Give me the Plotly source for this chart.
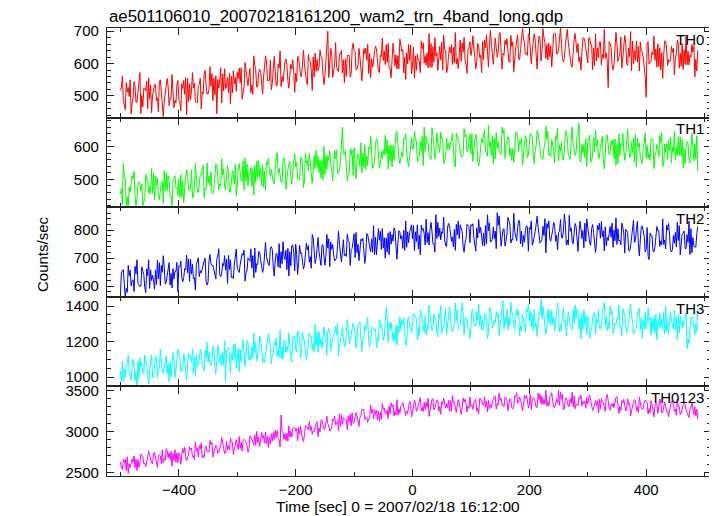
import plotly.graph_objects as go
from plotly.subplots import make_subplots

title_text = "ae501106010_20070218161200_wam2_trn_4band_long.qdp"
x_title = "Time [sec] 0 = 2007/02/18 16:12:00"
y_title = "Counts/sec"
band_names = ["TH0", "TH1", "TH2", "TH3", "TH0123"]
band_colors = ["#ff0000", "#00ff00", "#0000ff", "#00ffff", "#ff00ff"]

# time bins: t = -500 + (5/3)*k ; "a" arrays hold the bins at -500, -495, ...,
# "b" and "c" arrays the two bins that follow each of them
t_start = -500.0
t_step = 5.0 / 3.0

th0_a = [
    518, 486, 541, 498, 476, 528, 511, 445, 524, 546, 491, 504, 534, 452, 516, 484, 554, 494, 509, 478,
    488, 538, 505, 554, 489, 524, 480, 535, 512, 579, 506, 530, 555, 445, 546, 569, 523, 510, 562, 538,
    573, 540, 511, 571, 560, 534, 595, 529, 574, 557, 608, 547, 538, 578, 599, 529, 576, 596, 563, 612,
    571, 621, 560, 596, 535, 607, 621, 576, 588, 619, 558, 700, 647, 579, 591, 630, 571, 613, 624, 568,
    640, 583, 621, 597, 648, 569, 615, 638, 596, 627, 609, 658, 586, 637, 592, 624, 656, 571, 634, 610,
    593, 624, 610, 670, 601, 633, 589, 652, 623, 610, 666, 644, 582, 632, 650, 598, 621, 664, 610, 642,
    625, 652, 603, 619, 668, 648, 589, 663, 641, 620, 696, 632, 658, 606, 653, 621, 689, 643, 679, 632,
    687, 640, 673, 655, 608, 680, 659, 621, 630, 693, 642, 661, 616, 706, 623, 651, 662, 604, 633, 668,
    602, 659, 648, 608, 667, 629, 617, 526, 650, 598, 659, 629, 617, 663, 649, 578, 640, 605, 667, 618,
    496, 598, 635, 610, 661, 580, 626, 648, 605, 635, 617, 664, 592, 642, 596, 627, 636, 613,
]
th0_b = [
    526, 472, 512, 550, 494, 480, 538, 502, 522, 460, 534, 515, 486, 544, 470, 508, 530, 492, 464, 536,
    482, 523, 557, 483, 518, 539, 479, 555, 507, 533, 521, 569, 503, 551, 587, 515, 531, 571, 509, 557,
    553, 587, 528, 544, 585, 505, 578, 572, 529, 589, 546, 610, 573, 531, 586, 560, 607, 547, 598, 576,
    544, 592, 609, 567, 628, 580, 559, 613, 642, 568, 609, 557, 630, 596, 579, 631, 612, 560, 625, 645,
    638, 595, 567, 646, 610, 631, 589, 654, 578, 621, 639, 604, 586, 663, 627, 584, 638, 621, 599, 658,
    651, 579, 608, 646, 625, 587, 662, 604, 634, 653, 580, 642, 623, 659, 602, 616, 673, 635, 596, 650,
    643, 598, 663, 626, 613, 688, 655, 610, 679, 634, 649, 626, 677, 604, 667, 649, 617, 694, 663, 625,
    650, 674, 623, 685, 638, 666, 611, 655, 692, 630, 673, 615, 658, 666, 593, 675, 634, 620, 679, 647,
    678, 659, 594, 648, 667, 616, 633, 668, 595, 648, 607, 682, 653, 600, 621, 670, 610, 653, 637, 590,
    664, 606, 627, 645, 591, 634, 670, 594, 611, 647, 629, 586, 662, 598, 639, 619, 655, 577,
]
th0_c = [
    561, 458, 526, 444, 544, 481, 572, 466, 516, 556, 448, 536, 494, 550, 436, 530, 470, 566, 486, 548,
    454, 548, 442, 538, 572, 482, 532, 460, 568, 506, 590, 486, 562, 524, 478, 584, 556, 476, 578, 514,
    586, 490, 603, 531, 510, 624, 527, 583, 506, 624, 549, 519, 622, 532, 639, 543, 614, 524, 583, 511,
    621, 561, 642, 548, 609, 517, 632, 578, 621, 535, 644, 606, 557, 665, 575, 640, 541, 625, 558, 663,
    580, 647, 547, 630, 660, 557, 605, 646, 572, 679, 597, 662, 556, 631, 583, 676, 644, 551, 659, 568,
    555, 629, 572, 664, 595, 693, 588, 680, 579, 611, 688, 572, 651, 597, 696, 584, 607, 681, 570, 668,
    686, 584, 653, 572, 673, 611, 703, 598, 649, 690, 583, 672, 631, 687, 575, 670, 611, 708, 629, 692,
    600, 692, 583, 677, 708, 616, 663, 589, 694, 630, 711, 605, 678, 638, 589, 693, 662, 580, 679, 613,
    680, 581, 692, 618, 595, 706, 607, 660, 581, 696, 619, 586, 687, 594, 699, 600, 670, 577, 635, 560,
    668, 606, 685, 589, 649, 554, 668, 612, 653, 565, 673, 632, 582, 688, 596, 659, 559, 641,
]
th1_a = [
    455, 548, 420, 477, 512, 450, 485, 465, 434, 499, 478, 457, 511, 448, 491, 527, 466, 448, 499, 474,
    502, 447, 491, 515, 474, 443, 507, 493, 530, 474, 489, 523, 468, 544, 485, 513, 466, 522, 512, 485,
    480, 523, 557, 495, 518, 479, 542, 507, 533, 477, 552, 529, 502, 545, 519, 491, 566, 513, 556, 527,
    539, 506, 568, 495, 557, 540, 526, 589, 521, 556, 514, 571, 545, 532, 588, 525, 660, 586, 514, 575,
    597, 555, 541, 580, 530, 598, 578, 558, 617, 547, 589, 579, 603, 538, 610, 592, 570, 626, 581, 567,
    592, 617, 568, 586, 660, 612, 571, 634, 581, 602, 625, 560, 592, 612, 579, 641, 607, 569, 630, 587,
    578, 607, 618, 564, 612, 586, 665, 572, 628, 596, 582, 640, 604, 620, 557, 590, 632, 610, 567, 624,
    600, 630, 588, 641, 567, 596, 623, 580, 608, 632, 557, 614, 589, 625, 562, 602, 580, 672, 609, 567,
    613, 553, 627, 602, 568, 632, 578, 591, 619, 563, 606, 572, 642, 580, 595, 613, 553, 627, 566, 600,
    564, 580, 625, 571, 595, 614, 544, 610, 587, 599, 559, 631, 572, 594, 616, 550, 601, 563,
]
th1_b = [
    474, 506, 447, 461, 502, 420, 493, 485, 442, 500, 457, 519, 482, 438, 493, 465, 512, 450, 501, 477,
    445, 493, 510, 468, 529, 481, 460, 514, 543, 469, 510, 458, 531, 497, 480, 532, 513, 461, 526, 546,
    538, 495, 468, 547, 512, 533, 492, 557, 482, 525, 544, 509, 492, 569, 534, 491, 546, 529, 508, 567,
    552, 499, 541, 580, 526, 513, 573, 538, 560, 499, 575, 557, 530, 589, 517, 556, 580, 543, 517, 590,
    537, 578, 612, 537, 572, 593, 533, 609, 560, 586, 574, 622, 556, 603, 639, 567, 583, 623, 560, 608,
    595, 619, 570, 632, 586, 614, 561, 605, 643, 581, 626, 568, 612, 620, 549, 631, 591, 577, 638, 606,
    638, 620, 556, 610, 630, 580, 598, 634, 562, 616, 576, 652, 624, 572, 594, 644, 584, 628, 612, 566,
    640, 582, 604, 621, 567, 611, 647, 570, 588, 624, 605, 563, 639, 575, 616, 596, 632, 554, 581, 625,
    627, 555, 583, 620, 598, 560, 634, 575, 604, 623, 548, 610, 590, 626, 567, 581, 637, 599, 558, 612,
    604, 558, 621, 583, 569, 642, 608, 562, 629, 583, 597, 573, 622, 548, 610, 591, 557, 633,
]
th1_c = [
    423, 506, 410, 494, 524, 441, 486, 419, 515, 458, 533, 437, 505, 469, 427, 520, 494, 420, 511, 452,
    514, 428, 530, 465, 446, 549, 462, 513, 443, 550, 482, 456, 548, 468, 564, 478, 542, 461, 514, 450,
    548, 493, 566, 481, 536, 452, 556, 506, 545, 467, 565, 530, 486, 582, 501, 559, 470, 545, 485, 579,
    504, 564, 476, 551, 580, 488, 533, 570, 505, 602, 530, 588, 495, 563, 521, 605, 578, 495, 594, 512,
    502, 570, 520, 604, 543, 633, 540, 624, 534, 564, 635, 532, 605, 557, 647, 548, 570, 639, 539, 629,
    647, 554, 616, 542, 632, 575, 658, 563, 608, 644, 548, 627, 589, 640, 538, 623, 569, 655, 584, 640,
    555, 638, 541, 625, 654, 571, 615, 548, 643, 586, 660, 564, 631, 595, 552, 645, 618, 544, 634, 575,
    636, 548, 649, 581, 561, 662, 574, 622, 551, 656, 586, 558, 649, 567, 661, 573, 636, 553, 604, 538,
    635, 579, 651, 564, 618, 533, 636, 584, 622, 543, 639, 603, 558, 653, 570, 627, 537, 611, 549, 642,
    565, 624, 533, 607, 634, 540, 583, 619, 551, 647, 573, 630, 534, 601, 557, 640, 610, 526,
]
th2_a = [
    575, 658, 592, 637, 620, 671, 610, 601, 641, 662, 592, 639, 658, 626, 674, 666, 632, 604, 663, 653,
    672, 632, 663, 647, 696, 626, 677, 634, 666, 700, 615, 680, 656, 698, 641, 681, 657, 710, 631, 679,
    664, 678, 710, 648, 695, 664, 736, 677, 694, 664, 706, 675, 731, 690, 669, 723, 707, 659, 723, 747,
    750, 684, 719, 674, 729, 705, 772, 698, 722, 746, 675, 736, 758, 712, 698, 750, 725, 715, 764, 731,
    787, 719, 732, 771, 713, 756, 768, 712, 746, 796, 736, 772, 712, 784, 799, 755, 768, 799, 739, 792,
    769, 794, 732, 818, 787, 756, 802, 752, 855, 777, 795, 765, 808, 786, 740, 821, 770, 795, 757, 815,
    820, 773, 808, 790, 745, 817, 798, 760, 770, 862, 784, 803, 760, 828, 768, 796, 809, 751, 781, 816,
    809, 746, 795, 812, 760, 781, 824, 769, 800, 760, 791, 775, 858, 765, 796, 751, 814, 784, 770, 825,
    797, 746, 792, 758, 825, 777, 812, 763, 775, 800, 749, 764, 811, 803, 729, 779, 756, 831, 765, 789,
    733, 695, 780, 739, 798, 761, 749, 818, 783, 731, 792, 763, 751, 797, 784, 713, 774, 739,
]
th2_b = [
    647, 604, 578, 657, 623, 644, 604, 669, 595, 638, 658, 623, 606, 684, 649, 607, 662, 646, 625, 685,
    669, 616, 658, 697, 643, 630, 690, 655, 677, 616, 692, 674, 647, 706, 634, 673, 697, 660, 634, 707,
    655, 695, 729, 654, 689, 709, 649, 724, 676, 701, 689, 736, 669, 717, 752, 680, 695, 735, 672, 720,
    713, 746, 688, 703, 745, 664, 738, 731, 689, 748, 706, 769, 732, 690, 745, 719, 766, 706, 757, 735,
    702, 750, 768, 726, 788, 741, 721, 775, 805, 731, 773, 721, 795, 761, 745, 798, 780, 728, 794, 814,
    817, 759, 782, 800, 747, 791, 828, 752, 770, 807, 789, 747, 824, 760, 802, 783, 819, 741, 769, 813,
    815, 743, 772, 810, 789, 751, 826, 768, 797, 817, 743, 805, 786, 822, 764, 778, 835, 797, 757, 811,
    803, 757, 820, 782, 768, 841, 807, 761, 828, 782, 796, 771, 821, 747, 808, 789, 756, 832, 799, 760,
    783, 806, 756, 817, 771, 798, 744, 787, 825, 762, 805, 747, 790, 798, 725, 807, 766, 752, 811, 778,
    809, 790, 726, 779, 798, 748, 765, 800, 728, 781, 740, 816, 787, 734, 756, 805, 744, 787,
]
th2_c = [
    657, 560, 674, 601, 581, 694, 598, 653, 577, 694, 620, 589, 692, 602, 709, 613, 684, 594, 653, 581,
    690, 630, 711, 617, 678, 586, 701, 647, 690, 604, 713, 675, 626, 734, 644, 709, 610, 694, 627, 732,
    649, 716, 618, 701, 733, 630, 680, 721, 649, 756, 676, 741, 636, 712, 665, 759, 728, 636, 745, 655,
    642, 717, 661, 754, 686, 785, 681, 774, 674, 707, 785, 670, 749, 697, 796, 686, 709, 785, 674, 774,
    792, 691, 761, 681, 783, 723, 816, 712, 764, 806, 700, 790, 750, 808, 696, 793, 735, 833, 755, 819,
    727, 819, 712, 806, 839, 747, 796, 722, 828, 765, 847, 741, 816, 776, 728, 833, 803, 721, 821, 755,
    823, 725, 838, 764, 743, 855, 758, 812, 734, 851, 775, 743, 846, 754, 860, 762, 833, 741, 799, 725,
    833, 771, 850, 754, 814, 719, 833, 777, 818, 730, 838, 797, 747, 853, 761, 824, 724, 806, 737, 840,
    755, 820, 720, 801, 831, 726, 774, 813, 739, 844, 761, 825, 718, 792, 743, 835, 802, 708, 815, 722,
    707, 780, 722, 813, 742, 840, 733, 824, 722, 753, 828, 712, 789, 734, 832, 719, 740, 813,
]
th3_a = [
    1034, 976, 1072, 1020, 1059, 977, 1090, 1056, 1017, 1082, 1043, 1003, 1116, 1037, 1103, 1060, 1021, 1086, 1138, 1046,
    1138, 1033, 1096, 1080, 1116, 1020, 1128, 1101, 1067, 1151, 1085, 1064, 1163, 1099, 1078, 1138, 975, 1165, 1134, 1104,
    1089, 1154, 1211, 1120, 1095, 1173, 1137, 1125, 1192, 1104, 1163, 1217, 1126, 1179, 1152, 1106, 1207, 1175, 1146, 1228,
    1157, 1253, 1152, 1206, 1143, 1230, 1192, 1174, 1258, 1165, 1220, 1259, 1151, 1244, 1236, 1188, 1281, 1173, 1267, 1243,
    1282, 1200, 1312, 1224, 1264, 1194, 1276, 1262, 1219, 1290, 1206, 1395, 1306, 1245, 1196, 1293, 1270, 1332, 1180, 1286,
    1296, 1342, 1280, 1362, 1252, 1296, 1338, 1276, 1319, 1356, 1246, 1332, 1296, 1351, 1259, 1320, 1288, 1420, 1335, 1272,
    1276, 1300, 1370, 1289, 1326, 1356, 1252, 1351, 1319, 1337, 1278, 1430, 1300, 1333, 1367, 1268, 1347, 1290, 1315, 1381,
    1319, 1357, 1281, 1308, 1440, 1346, 1282, 1376, 1296, 1327, 1360, 1262, 1309, 1339, 1287, 1380, 1328, 1271, 1360, 1296,
    1342, 1252, 1362, 1326, 1274, 1370, 1288, 1309, 1350, 1266, 1331, 1280, 1384, 1291, 1314, 1341, 1250, 1361, 1270, 1321,
    1272, 1315, 1330, 1248, 1319, 1279, 1368, 1256, 1339, 1290, 1268, 1354, 1299, 1322, 1160, 1275, 1337, 1303,
]
th3_b = [
    975, 1046, 1073, 1009, 1101, 1029, 998, 1078, 1123, 1011, 1073, 995, 1105, 1053, 1029, 1106, 1079, 1000, 1098, 1128,
    1118, 1055, 1016, 1135, 1084, 1117, 1057, 1156, 1044, 1110, 1140, 1089, 1065, 1181, 1130, 1067, 1151, 1127, 1096, 1186,
    1162, 1083, 1146, 1205, 1123, 1105, 1194, 1142, 1175, 1084, 1197, 1172, 1130, 1219, 1111, 1170, 1206, 1151, 1111, 1222,
    1142, 1204, 1255, 1145, 1198, 1229, 1139, 1254, 1182, 1221, 1203, 1276, 1177, 1249, 1303, 1196, 1220, 1280, 1187, 1260,
    1250, 1299, 1211, 1233, 1295, 1173, 1283, 1272, 1208, 1296, 1232, 1326, 1271, 1206, 1289, 1248, 1321, 1238, 1323, 1294,
    1354, 1328, 1233, 1315, 1346, 1272, 1300, 1355, 1248, 1330, 1271, 1386, 1345, 1268, 1302, 1378, 1289, 1356, 1332, 1264,
    1375, 1289, 1322, 1350, 1269, 1336, 1390, 1277, 1304, 1359, 1332, 1270, 1384, 1289, 1352, 1323, 1377, 1261, 1303, 1369,
    1372, 1263, 1305, 1361, 1328, 1270, 1381, 1293, 1337, 1364, 1253, 1345, 1315, 1368, 1281, 1301, 1385, 1327, 1267, 1348,
    1336, 1266, 1362, 1304, 1283, 1393, 1342, 1272, 1374, 1304, 1325, 1288, 1363, 1251, 1344, 1315, 1265, 1378, 1330, 1270,
    1304, 1339, 1263, 1355, 1285, 1326, 1244, 1309, 1365, 1271, 1336, 1248, 1313, 1324, 1215, 1337, 1276, 1254,
]
th3_c = [
    1091, 1000, 1123, 981, 1073, 935, 1108, 1026, 1092, 962, 1126, 1069, 996, 1157, 1023, 1120, 973, 1098, 998, 1156,
    1030, 1132, 985, 1110, 1158, 1005, 1080, 1143, 1034, 1196, 1076, 1175, 1019, 1132, 1063, 1204, 1159, 1021, 1185, 1050,
    1032, 1145, 1061, 1201, 1098, 1248, 1091, 1231, 1081, 1131, 1247, 1076, 1195, 1116, 1266, 1100, 1136, 1249, 1083, 1233,
    1261, 1109, 1215, 1095, 1248, 1156, 1297, 1141, 1219, 1282, 1124, 1259, 1199, 1286, 1119, 1263, 1176, 1323, 1207, 1303,
    1165, 1305, 1144, 1287, 1336, 1200, 1273, 1164, 1324, 1230, 1354, 1197, 1309, 1251, 1180, 1338, 1294, 1179, 1339, 1250,
    1356, 1210, 1379, 1269, 1237, 1406, 1260, 1342, 1226, 1401, 1288, 1241, 1395, 1258, 1418, 1272, 1378, 1241, 1329, 1218,
    1381, 1288, 1409, 1265, 1356, 1215, 1387, 1303, 1367, 1235, 1398, 1338, 1264, 1423, 1287, 1382, 1233, 1356, 1255, 1410,
    1282, 1381, 1230, 1353, 1397, 1241, 1312, 1372, 1260, 1419, 1295, 1391, 1231, 1342, 1269, 1407, 1358, 1217, 1378, 1240,
    1219, 1330, 1242, 1380, 1274, 1421, 1261, 1399, 1245, 1293, 1406, 1232, 1348, 1267, 1413, 1245, 1277, 1388, 1219, 1366,
    1391, 1235, 1336, 1212, 1361, 1265, 1401, 1241, 1315, 1374, 1211, 1342, 1278, 1361, 1189, 1329, 1238, 1381,
]
th0123_a = [
    2626, 2655, 2520, 2604, 2662, 2557, 2655, 2724, 2605, 2631, 2704, 2602, 2680, 2705, 2607, 2671, 2764, 2658, 2726, 2621,
    2739, 2712, 2805, 2681, 2777, 2702, 2764, 2827, 2679, 2799, 2760, 2838, 2740, 2814, 2775, 2873, 2735, 2824, 2869, 2800,
    2824, 2791, 2892, 2868, 2785, 2906, 2953, 2861, 2891, 2952, 2846, 2934, 2883, 3016, 2915, 3200, 2902, 2981, 2930, 3036,
    3002, 3048, 2971, 2953, 3052, 3014, 3003, 3098, 3044, 3138, 3026, 3094, 3021, 3125, 3089, 3215, 3089, 3139, 3189, 3067,
    3108, 3194, 3167, 3264, 3158, 3148, 3223, 3266, 3143, 3233, 3273, 3218, 3310, 3299, 3243, 3197, 3308, 3294, 3250, 3365,
    3232, 3337, 3320, 3249, 3358, 3293, 3274, 3401, 3339, 3248, 3361, 3310, 3291, 3376, 3354, 3229, 3342, 3281, 3394, 3309,
    3306, 3354, 3244, 3401, 3347, 3294, 3378, 3291, 3424, 3340, 3376, 3325, 3403, 3367, 3287, 3434, 3345, 3393, 3328, 3435,
    3335, 3388, 3359, 3465, 3337, 3393, 3310, 3421, 3365, 3340, 3500, 3395, 3280, 3368, 3397, 3301, 3339, 3414, 3313, 3369,
    3333, 3378, 3286, 3311, 3395, 3356, 3246, 3375, 3332, 3290, 3423, 3304, 3347, 3250, 3330, 3269, 3388, 3301, 3362, 3274,
    3367, 3280, 3339, 3304, 3218, 3346, 3308, 3237, 3253, 3363, 3271, 3303, 3221, 3341, 3230, 3279, 3298, 3191,
]
th0123_b = [
    2548, 2624, 2689, 2558, 2623, 2665, 2559, 2698, 2615, 2664, 2646, 2735, 2619, 2708, 2776, 2648, 2681, 2755, 2646, 2736,
    2727, 2791, 2689, 2720, 2798, 2656, 2792, 2784, 2710, 2822, 2749, 2866, 2804, 2731, 2834, 2789, 2878, 2773, 2869, 2831,
    2777, 2867, 2903, 2831, 2946, 2863, 2830, 2931, 2988, 2858, 2937, 2847, 2984, 2927, 2901, 2998, 2969, 2879, 3001, 3041,
    3035, 2965, 2924, 3073, 3017, 3062, 2996, 3120, 2992, 3077, 3118, 3063, 3040, 3186, 3130, 3060, 3166, 3143, 3112, 3225,
    3201, 3111, 3191, 3266, 3172, 3154, 3266, 3208, 3251, 3147, 3287, 3260, 3215, 3326, 3200, 3276, 3322, 3262, 3218, 3355,
    3327, 3245, 3361, 3294, 3269, 3404, 3343, 3262, 3385, 3303, 3329, 3287, 3378, 3246, 3359, 3325, 3267, 3405, 3348, 3279,
    3322, 3369, 3282, 3396, 3316, 3370, 3276, 3358, 3429, 3321, 3403, 3301, 3384, 3401, 3274, 3425, 3356, 3334, 3445, 3390,
    3449, 3414, 3297, 3392, 3426, 3334, 3365, 3428, 3296, 3391, 3317, 3452, 3400, 3304, 3342, 3430, 3320, 3397, 3366, 3281,
    3411, 3305, 3343, 3373, 3274, 3351, 3414, 3275, 3305, 3368, 3334, 3256, 3391, 3274, 3347, 3309, 3372, 3230, 3278, 3355,
    3357, 3225, 3273, 3339, 3297, 3226, 3357, 3250, 3300, 3331, 3196, 3306, 3267, 3330, 3222, 3289, 3204, 3273,
]
th0123_c = [
    2536, 2661, 2488, 2641, 2701, 2521, 2614, 2692, 2565, 2762, 2622, 2743, 2558, 2698, 2618, 2789, 2739, 2576, 2776, 2617,
    2598, 2737, 2639, 2811, 2691, 2873, 2688, 2860, 2682, 2747, 2890, 2687, 2833, 2742, 2924, 2729, 2774, 2914, 2718, 2900,
    2937, 2759, 2888, 2747, 2934, 2829, 3000, 2816, 2913, 2992, 2805, 2970, 2901, 3009, 2811, 2988, 2887, 3067, 2930, 3049,
    2886, 3061, 2876, 3054, 3120, 2964, 3060, 2936, 3136, 3030, 3186, 3004, 3147, 3084, 3006, 3202, 3157, 3020, 3209, 3099,
    3230, 3061, 3270, 3143, 3111, 3320, 3151, 3255, 3122, 3338, 3208, 3157, 3348, 3189, 3387, 3219, 3352, 3193, 3304, 3178,
    3380, 3269, 3414, 3242, 3351, 3183, 3389, 3289, 3366, 3209, 3404, 3333, 3244, 3436, 3273, 3387, 3208, 3357, 3236, 3422,
    3270, 3392, 3215, 3365, 3422, 3238, 3328, 3403, 3272, 3466, 3322, 3416, 3252, 3388, 3305, 3473, 3419, 3253, 3402, 3287,
    3266, 3397, 3291, 3455, 3327, 3501, 3308, 3472, 3286, 3342, 3477, 3266, 3404, 3305, 3479, 3276, 3313, 3445, 3341, 3415,
    3443, 3256, 3376, 3226, 3404, 3289, 3451, 3258, 3346, 3416, 3220, 3376, 3298, 3397, 3190, 3357, 3247, 3418, 3272, 3382,
    3210, 3374, 3177, 3344, 3398, 3231, 3315, 3179, 3368, 3250, 3395, 3202, 3333, 3259, 3169, 3354, 3298, 3148,
]


def interleave(a, b, c):
    out = []
    for u, v, w in zip(a, b, c):
        out.extend([u, v, w])
    return out


series = [
    interleave(th0_a, th0_b, th0_c),
    interleave(th1_a, th1_b, th1_c),
    interleave(th2_a, th2_b, th2_c),
    interleave(th3_a, th3_b, th3_c),
    interleave(th0123_a, th0123_b, th0123_c),
]
y_ranges = [[433, 710], [415, 689], [562, 882], [948, 1452], [2455, 3549]]
y_major = [100, 100, 100, 200, 500]
y_minor = [20, 20, 20, 50, 100]
x_range = [-523, 511]

FONT = "Liberation Sans, Arial, Helvetica, sans-serif"
AXC = "#222222"

fig = make_subplots(rows=5, cols=1, shared_xaxes=True, vertical_spacing=0)

for i, (vals, col) in enumerate(zip(series, band_colors)):
    t = [t_start + t_step * k for k in range(len(vals))]
    fig.add_trace(
        go.Scatter(x=t, y=vals, mode="lines", line=dict(color=col, width=1),
                   showlegend=False, hoverinfo="skip"),
        row=i + 1, col=1,
    )
    fig.update_yaxes(
        range=y_ranges[i], dtick=y_major[i], tick0=0,
        ticks="inside", ticklen=7, tickwidth=1, tickcolor=AXC,
        minor=dict(dtick=y_minor[i], tick0=0, ticks="inside", ticklen=4,
                   tickcolor=AXC, tickwidth=1, showgrid=False),
        showline=True, linecolor=AXC, linewidth=1.3, mirror="ticks",
        showgrid=False, zeroline=False,
        tickfont=dict(family=FONT, size=15, color="black"),
        ticklabelstandoff=4,
        row=i + 1, col=1,
    )
    fig.update_xaxes(
        range=x_range, dtick=200, tick0=0,
        ticks="inside", ticklen=7, tickwidth=1, tickcolor=AXC,
        minor=dict(dtick=100, tick0=0, ticks="inside", ticklen=4,
                   tickcolor=AXC, tickwidth=1, showgrid=False),
        showline=True, linecolor=AXC, linewidth=1.3, mirror="ticks",
        showgrid=False, zeroline=False,
        tickfont=dict(family=FONT, size=15, color="black"),
        row=i + 1, col=1,
    )
    sfx = "" if i == 0 else str(i + 1)
    fig.add_annotation(
        text=band_names[i], xref=f"x{sfx} domain", yref=f"y{sfx} domain",
        x=0.991, y=0.99, xanchor="right", yanchor="top", showarrow=False,
        font=dict(family=FONT, size=15, color="black"),
    )

fig.add_annotation(text=title_text, xref="paper", yref="paper", x=0, y=1.0246,
                   xanchor="left", yanchor="middle", showarrow=False,
                   font=dict(family=FONT, size=16.8, color="black"))
fig.add_annotation(text=y_title, xref="paper", yref="paper", x=-0.108, y=0.495,
                   xanchor="center", yanchor="middle", textangle=-90, showarrow=False,
                   font=dict(family=FONT, size=15, color="black"))
fig.add_annotation(text=x_title, xref="paper", yref="paper", x=0.482, y=-0.069,
                   xanchor="center", yanchor="middle", showarrow=False,
                   font=dict(family=FONT, size=15.5, color="black"))

# the page body has an 8px margin, so the figure is sized/margined to place the
# plot area at the same page pixels as the reference (x 107-711, y 28-476)
fig.update_layout(
    width=709, height=508,
    margin=dict(l=99, r=6, t=20, b=40),
    paper_bgcolor="white", plot_bgcolor="white",
    font=dict(family=FONT, size=15, color="black"),
)

fig.write_html("out.html")
